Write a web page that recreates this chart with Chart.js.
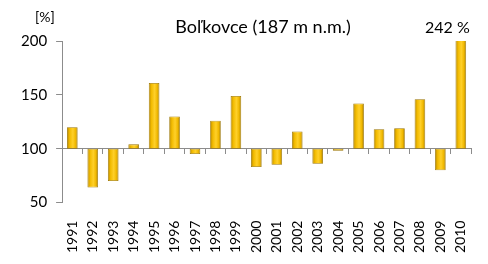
<!DOCTYPE html>
<html>
<head>
<meta charset="utf-8">
<script src="https://cdn.jsdelivr.net/npm/chart.js@4/dist/chart.umd.min.js"></script>
<style>
  html, body { margin: 0; padding: 0; background: #fff; }
  #wrap { width: 488px; height: 264px; }
</style>
</head>
<body>
<div id="wrap"><canvas id="chart" width="488" height="264"></canvas></div>
<script>
const ctx = document.getElementById('chart').getContext('2d');

// Data (percent of normal, base 100)
const years = ['1991','1992','1993','1994','1995','1996','1997','1998','1999','2000',
               '2001','2002','2003','2004','2005','2006','2007','2008','2009','2010'];
const values = [120, 64, 70, 104, 161, 130, 95, 126, 149, 83,
                85, 116, 86, 98, 142, 118, 119, 146, 80, 242];
const baseLine = 100;
const yTicks = [50, 100, 150, 200];
const titleText = 'Boľkovce (187 m n.m.)';
const unitText = '[%]';
const peakText = '242 %';

const fontFamily = 'Lato, "Open Sans", sans-serif';

// floating bars from the 100 % line
const barData = values.map(v => [baseLine, v]);

// horizontal gold gradient for every bar
const goldBars = {
  id: 'goldBars',
  beforeDatasetsDraw(chart) {
    const c = chart.ctx;
    chart.getDatasetMeta(0).data.forEach(el => {
      const l = el.x - el.width / 2, r = el.x + el.width / 2;
      const g = c.createLinearGradient(l, 0, r, 0);
      g.addColorStop(0, '#b88800');
      g.addColorStop(0.25, '#f2bb00');
      g.addColorStop(0.55, '#ffd02a');
      g.addColorStop(0.8, '#f0b800');
      g.addColorStop(1, '#a87c00');
      el.options.backgroundColor = g;
    });
  }
};

// title and small labels
const labels = {
  id: 'labels',
  afterDraw(chart) {
    const c = chart.ctx;
    c.save();
    c.fillStyle = '#000';
    c.textBaseline = 'alphabetic';
    c.font = '18px ' + fontFamily;
    c.textAlign = 'center';
    c.fillText(titleText, 263, 33);
    c.font = '16px ' + fontFamily;
    c.textAlign = 'left';
    c.fillText(peakText, 425, 33);
    c.font = '14px ' + fontFamily;
    c.fillText(unitText, 35, 22);
    c.restore();
  }
};

const chart = new Chart(ctx, {
  type: 'bar',
  data: {
    labels: years,
    datasets: [{
      data: barData,
      backgroundColor: () => '#f2bb00',
      borderColor: '#9a7400',
      borderWidth: 0.8,
      borderSkipped: false,
      categoryPercentage: 1,
      barPercentage: 0.52
    }]
  },
  options: {
    responsive: false,
    animation: false,
    layout: { padding: { top: 41, right: 15, left: 12, bottom: 1 } },
    plugins: {
      legend: { display: false },
      tooltip: { enabled: false }
    },
    scales: {
      x: {
        position: 'bottom',
        grid: { display: false },
        border: { display: false },
        ticks: {
          color: '#000',
          font: { family: fontFamily, size: 14 },
          minRotation: 90,
          maxRotation: 90,
          padding: 10,
          autoSkip: false
        }
      },
      x2: {
        type: 'category',
        labels: years,
        position: { y: baseLine },
        offset: true,
        grid: {
          offset: true,
          drawOnChartArea: false,
          drawTicks: true,
          tickLength: 5,
          color: '#8c8c8c'
        },
        border: { display: true, color: '#8c8c8c' },
        ticks: { display: false }
      },
      y: {
        min: 50,
        max: 200,
        afterBuildTicks: axis => { axis.ticks = yTicks.map(v => ({ value: v })); },
        grid: {
          drawOnChartArea: false,
          drawTicks: true,
          tickLength: 6,
          color: '#8c8c8c'
        },
        border: { display: true, color: '#8c8c8c' },
        ticks: {
          color: '#000',
          font: { family: fontFamily, size: 15 },
          padding: 9
        }
      }
    }
  },
  plugins: [goldBars, labels]
});
</script>
</body>
</html>
